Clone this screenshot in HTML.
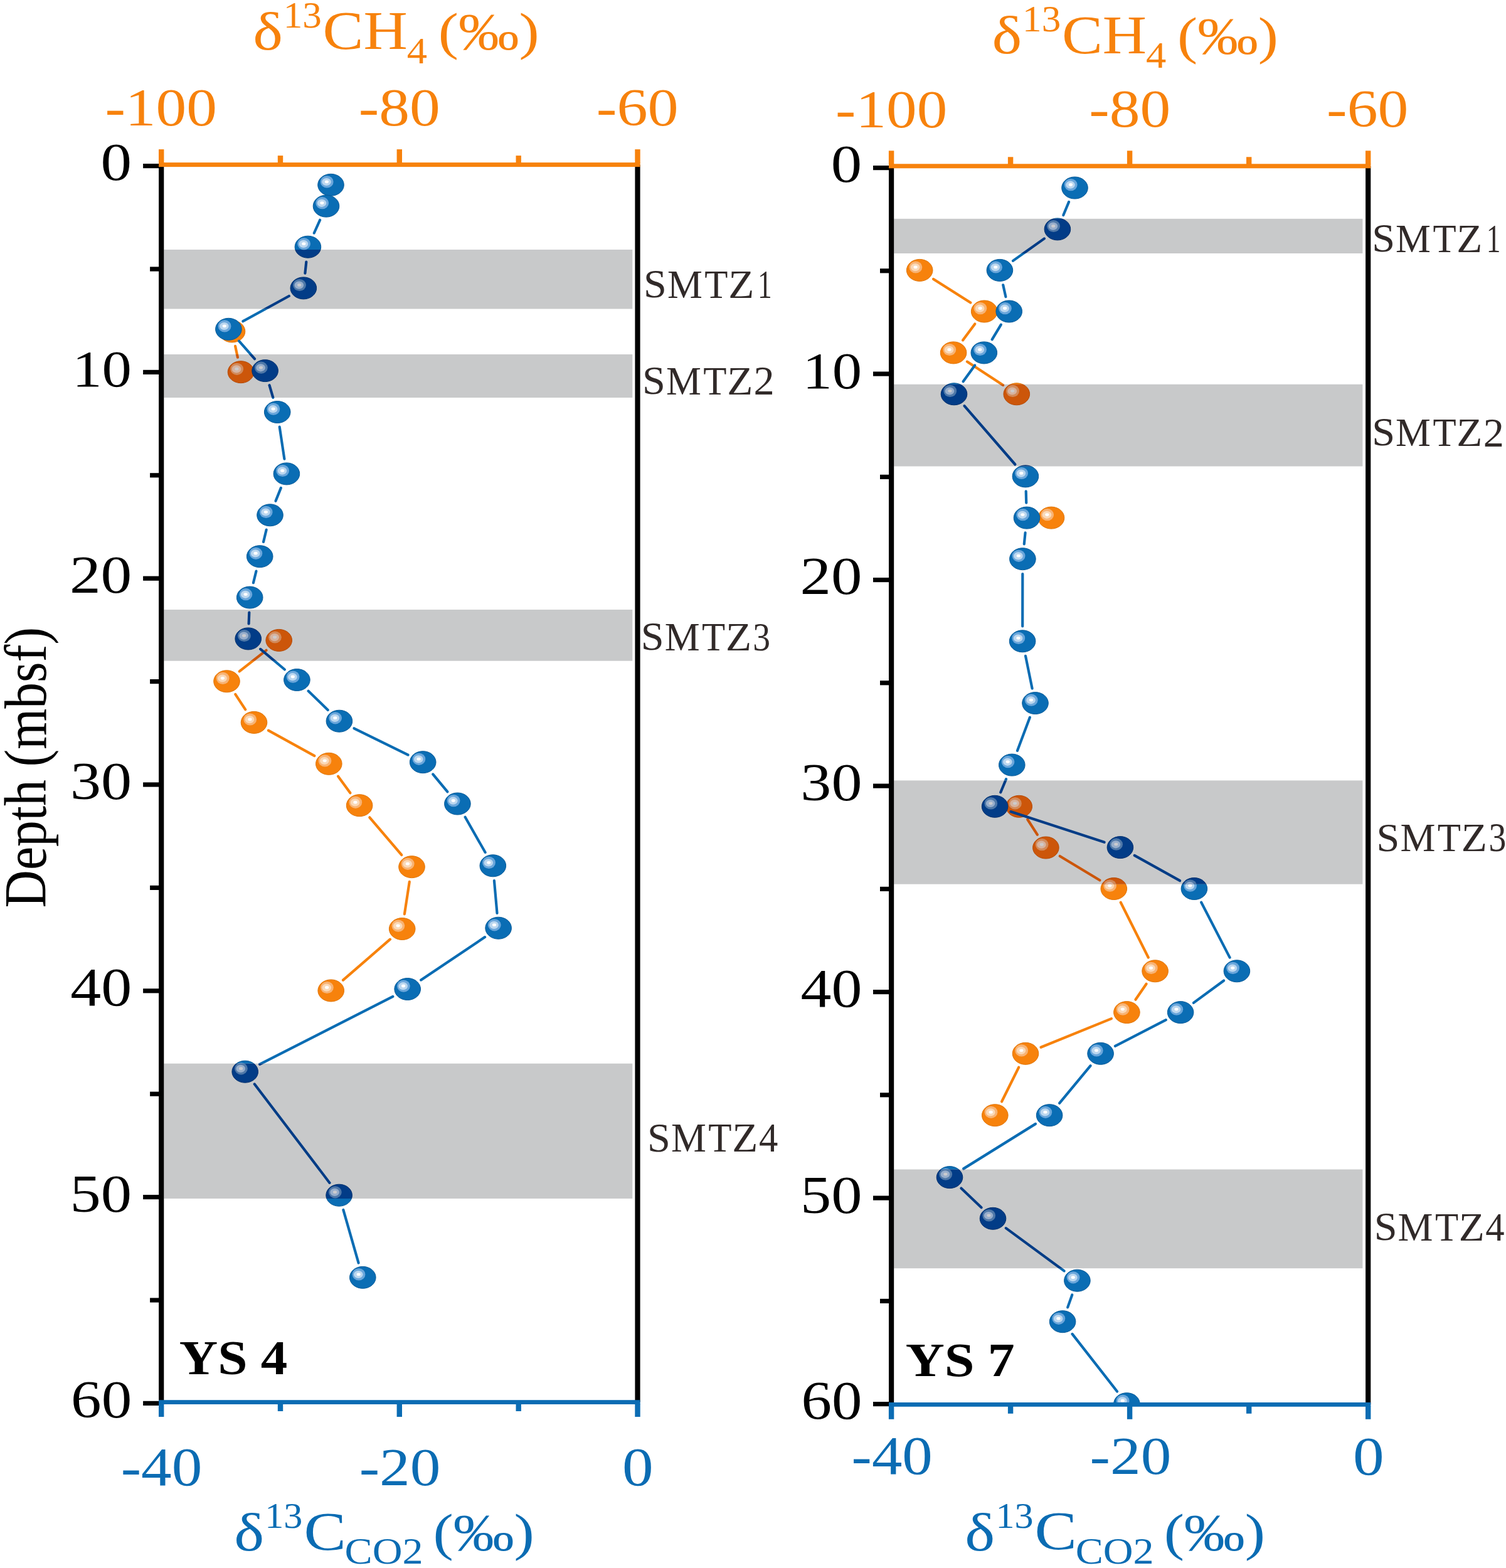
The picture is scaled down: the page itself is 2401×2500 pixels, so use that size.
<!DOCTYPE html>
<html><head><meta charset="utf-8"><title>d13C profiles YS4 YS7</title>
<style>html,body{margin:0;padding:0;background:#fff;}svg{display:block;}</style></head>
<body><svg width="2401" height="2500" viewBox="0 0 2401 2500"><rect width="2401" height="2500" fill="#fff"/><defs><clipPath id="paL"><rect x="257.2" y="262.6" width="759.3" height="1969.8"/></clipPath><clipPath id="bdL"><rect x="261.3" y="398.0" width="747.0" height="94.5"/><rect x="261.3" y="565.0" width="747.0" height="69.0"/><rect x="261.3" y="972.0" width="747.0" height="81.70000000000005"/><rect x="261.3" y="1695.7" width="747.0" height="215.29999999999995"/></clipPath></defs><g clip-path="url(#paL)"><g stroke="#F7820C" stroke-width="4.2" stroke-linecap="round"><line x1="375.1" y1="551.9" x2="378.9" y2="569.7"/></g><g stroke="#F7820C" stroke-width="4.2" stroke-linecap="round"><line x1="424.5" y1="1036.8" x2="381.7" y2="1070.4"/><line x1="375.2" y1="1106.9" x2="391.3" y2="1131.3"/><line x1="427.9" y1="1164.6" x2="501.4" y2="1205.1"/><line x1="539.0" y1="1237.8" x2="558.4" y2="1264.2"/><line x1="589.3" y1="1303.3" x2="640.3" y2="1363.1"/><line x1="652.8" y1="1405.9" x2="644.9" y2="1457.3"/><line x1="621.9" y1="1497.7" x2="547.0" y2="1562.7"/></g><ellipse cx="370.0" cy="528.4" rx="20.8" ry="17.5" fill="#F7820C" stroke="#E07508" stroke-width="1"/><ellipse cx="363.7" cy="523.5" rx="10.4" ry="9.6" fill="#F8B374"/><ellipse cx="363.0" cy="523.6" rx="7.3" ry="6.1" fill="#FAD9B8"/><ellipse cx="363.4" cy="523.4" rx="3.1" ry="2.4" fill="#FFFFFF"/><ellipse cx="384.0" cy="593.2" rx="20.8" ry="17.5" fill="#F7820C" stroke="#E07508" stroke-width="1"/><ellipse cx="377.7" cy="588.3" rx="10.4" ry="9.6" fill="#F8B374"/><ellipse cx="377.0" cy="588.4" rx="7.3" ry="6.1" fill="#FAD9B8"/><ellipse cx="377.4" cy="588.2" rx="3.1" ry="2.4" fill="#FFFFFF"/><ellipse cx="444.7" cy="1020.9" rx="20.8" ry="17.5" fill="#F7820C" stroke="#E07508" stroke-width="1"/><ellipse cx="438.4" cy="1016.0" rx="10.4" ry="9.6" fill="#F8B374"/><ellipse cx="437.7" cy="1016.1" rx="7.3" ry="6.1" fill="#FAD9B8"/><ellipse cx="438.1" cy="1015.9" rx="3.1" ry="2.4" fill="#FFFFFF"/><ellipse cx="361.5" cy="1086.3" rx="20.8" ry="17.5" fill="#F7820C" stroke="#E07508" stroke-width="1"/><ellipse cx="355.2" cy="1081.4" rx="10.4" ry="9.6" fill="#F8B374"/><ellipse cx="354.5" cy="1081.5" rx="7.3" ry="6.1" fill="#FAD9B8"/><ellipse cx="354.9" cy="1081.3" rx="3.1" ry="2.4" fill="#FFFFFF"/><ellipse cx="405.0" cy="1151.9" rx="20.8" ry="17.5" fill="#F7820C" stroke="#E07508" stroke-width="1"/><ellipse cx="398.7" cy="1147.0" rx="10.4" ry="9.6" fill="#F8B374"/><ellipse cx="398.0" cy="1147.1" rx="7.3" ry="6.1" fill="#FAD9B8"/><ellipse cx="398.4" cy="1146.9" rx="3.1" ry="2.4" fill="#FFFFFF"/><ellipse cx="524.3" cy="1217.8" rx="20.8" ry="17.5" fill="#F7820C" stroke="#E07508" stroke-width="1"/><ellipse cx="518.0" cy="1212.9" rx="10.4" ry="9.6" fill="#F8B374"/><ellipse cx="517.3" cy="1213.0" rx="7.3" ry="6.1" fill="#FAD9B8"/><ellipse cx="517.7" cy="1212.8" rx="3.1" ry="2.4" fill="#FFFFFF"/><ellipse cx="573.1" cy="1284.2" rx="20.8" ry="17.5" fill="#F7820C" stroke="#E07508" stroke-width="1"/><ellipse cx="566.8" cy="1279.3" rx="10.4" ry="9.6" fill="#F8B374"/><ellipse cx="566.1" cy="1279.4" rx="7.3" ry="6.1" fill="#FAD9B8"/><ellipse cx="566.5" cy="1279.2" rx="3.1" ry="2.4" fill="#FFFFFF"/><ellipse cx="656.5" cy="1382.2" rx="20.8" ry="17.5" fill="#F7820C" stroke="#E07508" stroke-width="1"/><ellipse cx="650.2" cy="1377.3" rx="10.4" ry="9.6" fill="#F8B374"/><ellipse cx="649.5" cy="1377.4" rx="7.3" ry="6.1" fill="#FAD9B8"/><ellipse cx="649.9" cy="1377.2" rx="3.1" ry="2.4" fill="#FFFFFF"/><ellipse cx="641.2" cy="1481.0" rx="20.8" ry="17.5" fill="#F7820C" stroke="#E07508" stroke-width="1"/><ellipse cx="634.9" cy="1476.1" rx="10.4" ry="9.6" fill="#F8B374"/><ellipse cx="634.2" cy="1476.2" rx="7.3" ry="6.1" fill="#FAD9B8"/><ellipse cx="634.6" cy="1476.0" rx="3.1" ry="2.4" fill="#FFFFFF"/><ellipse cx="527.7" cy="1579.4" rx="20.8" ry="17.5" fill="#F7820C" stroke="#E07508" stroke-width="1"/><ellipse cx="521.4" cy="1574.5" rx="10.4" ry="9.6" fill="#F8B374"/><ellipse cx="520.7" cy="1574.6" rx="7.3" ry="6.1" fill="#FAD9B8"/><ellipse cx="521.1" cy="1574.4" rx="3.1" ry="2.4" fill="#FFFFFF"/><g stroke="#0B6CB3" stroke-width="4.2" stroke-linecap="round"><line x1="510.1" y1="350.8" x2="500.8" y2="371.5"/><line x1="488.3" y1="417.5" x2="486.4" y2="435.6"/><line x1="460.8" y1="472.0" x2="387.4" y2="512.2"/><line x1="381.0" y1="543.7" x2="406.0" y2="572.2"/><line x1="429.5" y1="614.2" x2="435.3" y2="633.9"/><line x1="445.7" y1="680.7" x2="453.4" y2="731.7"/><line x1="447.9" y1="777.9" x2="439.5" y2="798.8"/><line x1="424.7" y1="844.6" x2="420.0" y2="863.9"/><line x1="408.5" y1="910.6" x2="403.9" y2="929.2"/><line x1="397.3" y1="976.5" x2="396.6" y2="994.5"/><line x1="415.2" y1="1034.9" x2="453.9" y2="1067.5"/><line x1="491.6" y1="1101.7" x2="522.7" y2="1132.0"/><line x1="564.5" y1="1161.3" x2="650.6" y2="1203.6"/><line x1="690.2" y1="1234.4" x2="713.4" y2="1262.3"/><line x1="741.6" y1="1302.8" x2="773.6" y2="1359.0"/><line x1="787.9" y1="1404.1" x2="792.5" y2="1455.9"/><line x1="773.1" y1="1494.1" x2="671.2" y2="1562.6"/><line x1="626.3" y1="1588.9" x2="414.1" y2="1696.8"/><line x1="405.8" y1="1728.5" x2="525.5" y2="1885.9"/><line x1="547.3" y1="1928.9" x2="571.6" y2="2013.6"/></g><ellipse cx="527.5" cy="294.8" rx="20.8" ry="17.5" fill="#0A6DB4" stroke="#075A98" stroke-width="1"/><ellipse cx="521.2" cy="289.9" rx="10.4" ry="9.6" fill="#6AA6DB"/><ellipse cx="520.5" cy="290.0" rx="7.3" ry="6.1" fill="#BCD7EF"/><ellipse cx="520.9" cy="289.8" rx="3.1" ry="2.4" fill="#FFFFFF"/><ellipse cx="520.0" cy="328.6" rx="20.8" ry="17.5" fill="#0A6DB4" stroke="#075A98" stroke-width="1"/><ellipse cx="513.7" cy="323.7" rx="10.4" ry="9.6" fill="#6AA6DB"/><ellipse cx="513.0" cy="323.8" rx="7.3" ry="6.1" fill="#BCD7EF"/><ellipse cx="513.4" cy="323.6" rx="3.1" ry="2.4" fill="#FFFFFF"/><ellipse cx="490.9" cy="393.7" rx="20.8" ry="17.5" fill="#0A6DB4" stroke="#075A98" stroke-width="1"/><ellipse cx="484.6" cy="388.8" rx="10.4" ry="9.6" fill="#6AA6DB"/><ellipse cx="483.9" cy="388.9" rx="7.3" ry="6.1" fill="#BCD7EF"/><ellipse cx="484.3" cy="388.7" rx="3.1" ry="2.4" fill="#FFFFFF"/><ellipse cx="483.8" cy="459.4" rx="20.8" ry="17.5" fill="#0A6DB4" stroke="#075A98" stroke-width="1"/><ellipse cx="477.5" cy="454.5" rx="10.4" ry="9.6" fill="#6AA6DB"/><ellipse cx="476.8" cy="454.6" rx="7.3" ry="6.1" fill="#BCD7EF"/><ellipse cx="477.2" cy="454.4" rx="3.1" ry="2.4" fill="#FFFFFF"/><ellipse cx="364.4" cy="524.8" rx="20.8" ry="17.5" fill="#0A6DB4" stroke="#075A98" stroke-width="1"/><ellipse cx="358.1" cy="519.9" rx="10.4" ry="9.6" fill="#6AA6DB"/><ellipse cx="357.4" cy="520.0" rx="7.3" ry="6.1" fill="#BCD7EF"/><ellipse cx="357.8" cy="519.8" rx="3.1" ry="2.4" fill="#FFFFFF"/><ellipse cx="422.6" cy="591.1" rx="20.8" ry="17.5" fill="#0A6DB4" stroke="#075A98" stroke-width="1"/><ellipse cx="416.3" cy="586.2" rx="10.4" ry="9.6" fill="#6AA6DB"/><ellipse cx="415.6" cy="586.3" rx="7.3" ry="6.1" fill="#BCD7EF"/><ellipse cx="416.0" cy="586.1" rx="3.1" ry="2.4" fill="#FFFFFF"/><ellipse cx="442.2" cy="657.0" rx="20.8" ry="17.5" fill="#0A6DB4" stroke="#075A98" stroke-width="1"/><ellipse cx="435.9" cy="652.1" rx="10.4" ry="9.6" fill="#6AA6DB"/><ellipse cx="435.2" cy="652.2" rx="7.3" ry="6.1" fill="#BCD7EF"/><ellipse cx="435.6" cy="652.0" rx="3.1" ry="2.4" fill="#FFFFFF"/><ellipse cx="456.9" cy="755.4" rx="20.8" ry="17.5" fill="#0A6DB4" stroke="#075A98" stroke-width="1"/><ellipse cx="450.6" cy="750.5" rx="10.4" ry="9.6" fill="#6AA6DB"/><ellipse cx="449.9" cy="750.6" rx="7.3" ry="6.1" fill="#BCD7EF"/><ellipse cx="450.3" cy="750.4" rx="3.1" ry="2.4" fill="#FFFFFF"/><ellipse cx="430.5" cy="821.3" rx="20.8" ry="17.5" fill="#0A6DB4" stroke="#075A98" stroke-width="1"/><ellipse cx="424.2" cy="816.4" rx="10.4" ry="9.6" fill="#6AA6DB"/><ellipse cx="423.5" cy="816.5" rx="7.3" ry="6.1" fill="#BCD7EF"/><ellipse cx="423.9" cy="816.3" rx="3.1" ry="2.4" fill="#FFFFFF"/><ellipse cx="414.2" cy="887.2" rx="20.8" ry="17.5" fill="#0A6DB4" stroke="#075A98" stroke-width="1"/><ellipse cx="407.9" cy="882.3" rx="10.4" ry="9.6" fill="#6AA6DB"/><ellipse cx="407.2" cy="882.4" rx="7.3" ry="6.1" fill="#BCD7EF"/><ellipse cx="407.6" cy="882.2" rx="3.1" ry="2.4" fill="#FFFFFF"/><ellipse cx="398.2" cy="952.6" rx="20.8" ry="17.5" fill="#0A6DB4" stroke="#075A98" stroke-width="1"/><ellipse cx="391.9" cy="947.7" rx="10.4" ry="9.6" fill="#6AA6DB"/><ellipse cx="391.2" cy="947.8" rx="7.3" ry="6.1" fill="#BCD7EF"/><ellipse cx="391.6" cy="947.6" rx="3.1" ry="2.4" fill="#FFFFFF"/><ellipse cx="395.7" cy="1018.4" rx="20.8" ry="17.5" fill="#0A6DB4" stroke="#075A98" stroke-width="1"/><ellipse cx="389.4" cy="1013.5" rx="10.4" ry="9.6" fill="#6AA6DB"/><ellipse cx="388.7" cy="1013.6" rx="7.3" ry="6.1" fill="#BCD7EF"/><ellipse cx="389.1" cy="1013.4" rx="3.1" ry="2.4" fill="#FFFFFF"/><ellipse cx="473.4" cy="1084.0" rx="20.8" ry="17.5" fill="#0A6DB4" stroke="#075A98" stroke-width="1"/><ellipse cx="467.1" cy="1079.1" rx="10.4" ry="9.6" fill="#6AA6DB"/><ellipse cx="466.4" cy="1079.2" rx="7.3" ry="6.1" fill="#BCD7EF"/><ellipse cx="466.8" cy="1079.0" rx="3.1" ry="2.4" fill="#FFFFFF"/><ellipse cx="540.9" cy="1149.7" rx="20.8" ry="17.5" fill="#0A6DB4" stroke="#075A98" stroke-width="1"/><ellipse cx="534.6" cy="1144.8" rx="10.4" ry="9.6" fill="#6AA6DB"/><ellipse cx="533.9" cy="1144.9" rx="7.3" ry="6.1" fill="#BCD7EF"/><ellipse cx="534.3" cy="1144.7" rx="3.1" ry="2.4" fill="#FFFFFF"/><ellipse cx="674.2" cy="1215.2" rx="20.8" ry="17.5" fill="#0A6DB4" stroke="#075A98" stroke-width="1"/><ellipse cx="667.9" cy="1210.3" rx="10.4" ry="9.6" fill="#6AA6DB"/><ellipse cx="667.2" cy="1210.4" rx="7.3" ry="6.1" fill="#BCD7EF"/><ellipse cx="667.6" cy="1210.2" rx="3.1" ry="2.4" fill="#FFFFFF"/><ellipse cx="729.4" cy="1281.5" rx="20.8" ry="17.5" fill="#0A6DB4" stroke="#075A98" stroke-width="1"/><ellipse cx="723.1" cy="1276.6" rx="10.4" ry="9.6" fill="#6AA6DB"/><ellipse cx="722.4" cy="1276.7" rx="7.3" ry="6.1" fill="#BCD7EF"/><ellipse cx="722.8" cy="1276.5" rx="3.1" ry="2.4" fill="#FFFFFF"/><ellipse cx="785.8" cy="1380.3" rx="20.8" ry="17.5" fill="#0A6DB4" stroke="#075A98" stroke-width="1"/><ellipse cx="779.5" cy="1375.4" rx="10.4" ry="9.6" fill="#6AA6DB"/><ellipse cx="778.8" cy="1375.5" rx="7.3" ry="6.1" fill="#BCD7EF"/><ellipse cx="779.2" cy="1375.3" rx="3.1" ry="2.4" fill="#FFFFFF"/><ellipse cx="794.6" cy="1479.7" rx="20.8" ry="17.5" fill="#0A6DB4" stroke="#075A98" stroke-width="1"/><ellipse cx="788.3" cy="1474.8" rx="10.4" ry="9.6" fill="#6AA6DB"/><ellipse cx="787.6" cy="1474.9" rx="7.3" ry="6.1" fill="#BCD7EF"/><ellipse cx="788.0" cy="1474.7" rx="3.1" ry="2.4" fill="#FFFFFF"/><ellipse cx="649.7" cy="1577.0" rx="20.8" ry="17.5" fill="#0A6DB4" stroke="#075A98" stroke-width="1"/><ellipse cx="643.4" cy="1572.1" rx="10.4" ry="9.6" fill="#6AA6DB"/><ellipse cx="642.7" cy="1572.2" rx="7.3" ry="6.1" fill="#BCD7EF"/><ellipse cx="643.1" cy="1572.0" rx="3.1" ry="2.4" fill="#FFFFFF"/><ellipse cx="390.7" cy="1708.7" rx="20.8" ry="17.5" fill="#0A6DB4" stroke="#075A98" stroke-width="1"/><ellipse cx="384.4" cy="1703.8" rx="10.4" ry="9.6" fill="#6AA6DB"/><ellipse cx="383.7" cy="1703.9" rx="7.3" ry="6.1" fill="#BCD7EF"/><ellipse cx="384.1" cy="1703.7" rx="3.1" ry="2.4" fill="#FFFFFF"/><ellipse cx="540.6" cy="1905.7" rx="20.8" ry="17.5" fill="#0A6DB4" stroke="#075A98" stroke-width="1"/><ellipse cx="534.3" cy="1900.8" rx="10.4" ry="9.6" fill="#6AA6DB"/><ellipse cx="533.6" cy="1900.9" rx="7.3" ry="6.1" fill="#BCD7EF"/><ellipse cx="534.0" cy="1900.7" rx="3.1" ry="2.4" fill="#FFFFFF"/><ellipse cx="578.3" cy="2036.8" rx="20.8" ry="17.5" fill="#0A6DB4" stroke="#075A98" stroke-width="1"/><ellipse cx="572.0" cy="2031.9" rx="10.4" ry="9.6" fill="#6AA6DB"/><ellipse cx="571.3" cy="2032.0" rx="7.3" ry="6.1" fill="#BCD7EF"/><ellipse cx="571.7" cy="2031.8" rx="3.1" ry="2.4" fill="#FFFFFF"/><rect x="261.3" y="398.0" width="747.0" height="94.5" fill="#C8C9CA"/><rect x="261.3" y="565.0" width="747.0" height="69.0" fill="#C8C9CA"/><rect x="261.3" y="972.0" width="747.0" height="81.70000000000005" fill="#C8C9CA"/><rect x="261.3" y="1695.7" width="747.0" height="215.29999999999995" fill="#C8C9CA"/><g clip-path="url(#bdL)"><g stroke="#CC560B" stroke-width="4.2" stroke-linecap="round"><line x1="375.1" y1="551.9" x2="378.9" y2="569.7"/></g><g stroke="#CC560B" stroke-width="4.2" stroke-linecap="round"><line x1="424.5" y1="1036.8" x2="381.7" y2="1070.4"/><line x1="375.2" y1="1106.9" x2="391.3" y2="1131.3"/><line x1="427.9" y1="1164.6" x2="501.4" y2="1205.1"/><line x1="539.0" y1="1237.8" x2="558.4" y2="1264.2"/><line x1="589.3" y1="1303.3" x2="640.3" y2="1363.1"/><line x1="652.8" y1="1405.9" x2="644.9" y2="1457.3"/><line x1="621.9" y1="1497.7" x2="547.0" y2="1562.7"/></g><ellipse cx="370.0" cy="528.4" rx="20.8" ry="17.5" fill="#CC560A" stroke="#B54A06" stroke-width="1"/><ellipse cx="363.7" cy="523.5" rx="10.4" ry="9.6" fill="#D28A5A"/><ellipse cx="363.0" cy="523.6" rx="7.3" ry="6.1" fill="#D6B3A0"/><ellipse cx="363.4" cy="523.4" rx="3.1" ry="2.4" fill="#CDCBCB"/><ellipse cx="384.0" cy="593.2" rx="20.8" ry="17.5" fill="#CC560A" stroke="#B54A06" stroke-width="1"/><ellipse cx="377.7" cy="588.3" rx="10.4" ry="9.6" fill="#D28A5A"/><ellipse cx="377.0" cy="588.4" rx="7.3" ry="6.1" fill="#D6B3A0"/><ellipse cx="377.4" cy="588.2" rx="3.1" ry="2.4" fill="#CDCBCB"/><ellipse cx="444.7" cy="1020.9" rx="20.8" ry="17.5" fill="#CC560A" stroke="#B54A06" stroke-width="1"/><ellipse cx="438.4" cy="1016.0" rx="10.4" ry="9.6" fill="#D28A5A"/><ellipse cx="437.7" cy="1016.1" rx="7.3" ry="6.1" fill="#D6B3A0"/><ellipse cx="438.1" cy="1015.9" rx="3.1" ry="2.4" fill="#CDCBCB"/><ellipse cx="361.5" cy="1086.3" rx="20.8" ry="17.5" fill="#CC560A" stroke="#B54A06" stroke-width="1"/><ellipse cx="355.2" cy="1081.4" rx="10.4" ry="9.6" fill="#D28A5A"/><ellipse cx="354.5" cy="1081.5" rx="7.3" ry="6.1" fill="#D6B3A0"/><ellipse cx="354.9" cy="1081.3" rx="3.1" ry="2.4" fill="#CDCBCB"/><ellipse cx="405.0" cy="1151.9" rx="20.8" ry="17.5" fill="#CC560A" stroke="#B54A06" stroke-width="1"/><ellipse cx="398.7" cy="1147.0" rx="10.4" ry="9.6" fill="#D28A5A"/><ellipse cx="398.0" cy="1147.1" rx="7.3" ry="6.1" fill="#D6B3A0"/><ellipse cx="398.4" cy="1146.9" rx="3.1" ry="2.4" fill="#CDCBCB"/><ellipse cx="524.3" cy="1217.8" rx="20.8" ry="17.5" fill="#CC560A" stroke="#B54A06" stroke-width="1"/><ellipse cx="518.0" cy="1212.9" rx="10.4" ry="9.6" fill="#D28A5A"/><ellipse cx="517.3" cy="1213.0" rx="7.3" ry="6.1" fill="#D6B3A0"/><ellipse cx="517.7" cy="1212.8" rx="3.1" ry="2.4" fill="#CDCBCB"/><ellipse cx="573.1" cy="1284.2" rx="20.8" ry="17.5" fill="#CC560A" stroke="#B54A06" stroke-width="1"/><ellipse cx="566.8" cy="1279.3" rx="10.4" ry="9.6" fill="#D28A5A"/><ellipse cx="566.1" cy="1279.4" rx="7.3" ry="6.1" fill="#D6B3A0"/><ellipse cx="566.5" cy="1279.2" rx="3.1" ry="2.4" fill="#CDCBCB"/><ellipse cx="656.5" cy="1382.2" rx="20.8" ry="17.5" fill="#CC560A" stroke="#B54A06" stroke-width="1"/><ellipse cx="650.2" cy="1377.3" rx="10.4" ry="9.6" fill="#D28A5A"/><ellipse cx="649.5" cy="1377.4" rx="7.3" ry="6.1" fill="#D6B3A0"/><ellipse cx="649.9" cy="1377.2" rx="3.1" ry="2.4" fill="#CDCBCB"/><ellipse cx="641.2" cy="1481.0" rx="20.8" ry="17.5" fill="#CC560A" stroke="#B54A06" stroke-width="1"/><ellipse cx="634.9" cy="1476.1" rx="10.4" ry="9.6" fill="#D28A5A"/><ellipse cx="634.2" cy="1476.2" rx="7.3" ry="6.1" fill="#D6B3A0"/><ellipse cx="634.6" cy="1476.0" rx="3.1" ry="2.4" fill="#CDCBCB"/><ellipse cx="527.7" cy="1579.4" rx="20.8" ry="17.5" fill="#CC560A" stroke="#B54A06" stroke-width="1"/><ellipse cx="521.4" cy="1574.5" rx="10.4" ry="9.6" fill="#D28A5A"/><ellipse cx="520.7" cy="1574.6" rx="7.3" ry="6.1" fill="#D6B3A0"/><ellipse cx="521.1" cy="1574.4" rx="3.1" ry="2.4" fill="#CDCBCB"/><g stroke="#023C86" stroke-width="4.2" stroke-linecap="round"><line x1="510.1" y1="350.8" x2="500.8" y2="371.5"/><line x1="488.3" y1="417.5" x2="486.4" y2="435.6"/><line x1="460.8" y1="472.0" x2="387.4" y2="512.2"/><line x1="381.0" y1="543.7" x2="406.0" y2="572.2"/><line x1="429.5" y1="614.2" x2="435.3" y2="633.9"/><line x1="445.7" y1="680.7" x2="453.4" y2="731.7"/><line x1="447.9" y1="777.9" x2="439.5" y2="798.8"/><line x1="424.7" y1="844.6" x2="420.0" y2="863.9"/><line x1="408.5" y1="910.6" x2="403.9" y2="929.2"/><line x1="397.3" y1="976.5" x2="396.6" y2="994.5"/><line x1="415.2" y1="1034.9" x2="453.9" y2="1067.5"/><line x1="491.6" y1="1101.7" x2="522.7" y2="1132.0"/><line x1="564.5" y1="1161.3" x2="650.6" y2="1203.6"/><line x1="690.2" y1="1234.4" x2="713.4" y2="1262.3"/><line x1="741.6" y1="1302.8" x2="773.6" y2="1359.0"/><line x1="787.9" y1="1404.1" x2="792.5" y2="1455.9"/><line x1="773.1" y1="1494.1" x2="671.2" y2="1562.6"/><line x1="626.3" y1="1588.9" x2="414.1" y2="1696.8"/><line x1="405.8" y1="1728.5" x2="525.5" y2="1885.9"/><line x1="547.3" y1="1928.9" x2="571.6" y2="2013.6"/></g><ellipse cx="527.5" cy="294.8" rx="20.8" ry="17.5" fill="#023C87" stroke="#012F6C" stroke-width="1"/><ellipse cx="521.2" cy="289.9" rx="10.4" ry="9.6" fill="#4F78A8"/><ellipse cx="520.5" cy="290.0" rx="7.3" ry="6.1" fill="#98AECB"/><ellipse cx="520.9" cy="289.8" rx="3.1" ry="2.4" fill="#CACBCF"/><ellipse cx="520.0" cy="328.6" rx="20.8" ry="17.5" fill="#023C87" stroke="#012F6C" stroke-width="1"/><ellipse cx="513.7" cy="323.7" rx="10.4" ry="9.6" fill="#4F78A8"/><ellipse cx="513.0" cy="323.8" rx="7.3" ry="6.1" fill="#98AECB"/><ellipse cx="513.4" cy="323.6" rx="3.1" ry="2.4" fill="#CACBCF"/><ellipse cx="490.9" cy="393.7" rx="20.8" ry="17.5" fill="#023C87" stroke="#012F6C" stroke-width="1"/><ellipse cx="484.6" cy="388.8" rx="10.4" ry="9.6" fill="#4F78A8"/><ellipse cx="483.9" cy="388.9" rx="7.3" ry="6.1" fill="#98AECB"/><ellipse cx="484.3" cy="388.7" rx="3.1" ry="2.4" fill="#CACBCF"/><ellipse cx="483.8" cy="459.4" rx="20.8" ry="17.5" fill="#023C87" stroke="#012F6C" stroke-width="1"/><ellipse cx="477.5" cy="454.5" rx="10.4" ry="9.6" fill="#4F78A8"/><ellipse cx="476.8" cy="454.6" rx="7.3" ry="6.1" fill="#98AECB"/><ellipse cx="477.2" cy="454.4" rx="3.1" ry="2.4" fill="#CACBCF"/><ellipse cx="364.4" cy="524.8" rx="20.8" ry="17.5" fill="#023C87" stroke="#012F6C" stroke-width="1"/><ellipse cx="358.1" cy="519.9" rx="10.4" ry="9.6" fill="#4F78A8"/><ellipse cx="357.4" cy="520.0" rx="7.3" ry="6.1" fill="#98AECB"/><ellipse cx="357.8" cy="519.8" rx="3.1" ry="2.4" fill="#CACBCF"/><ellipse cx="422.6" cy="591.1" rx="20.8" ry="17.5" fill="#023C87" stroke="#012F6C" stroke-width="1"/><ellipse cx="416.3" cy="586.2" rx="10.4" ry="9.6" fill="#4F78A8"/><ellipse cx="415.6" cy="586.3" rx="7.3" ry="6.1" fill="#98AECB"/><ellipse cx="416.0" cy="586.1" rx="3.1" ry="2.4" fill="#CACBCF"/><ellipse cx="442.2" cy="657.0" rx="20.8" ry="17.5" fill="#023C87" stroke="#012F6C" stroke-width="1"/><ellipse cx="435.9" cy="652.1" rx="10.4" ry="9.6" fill="#4F78A8"/><ellipse cx="435.2" cy="652.2" rx="7.3" ry="6.1" fill="#98AECB"/><ellipse cx="435.6" cy="652.0" rx="3.1" ry="2.4" fill="#CACBCF"/><ellipse cx="456.9" cy="755.4" rx="20.8" ry="17.5" fill="#023C87" stroke="#012F6C" stroke-width="1"/><ellipse cx="450.6" cy="750.5" rx="10.4" ry="9.6" fill="#4F78A8"/><ellipse cx="449.9" cy="750.6" rx="7.3" ry="6.1" fill="#98AECB"/><ellipse cx="450.3" cy="750.4" rx="3.1" ry="2.4" fill="#CACBCF"/><ellipse cx="430.5" cy="821.3" rx="20.8" ry="17.5" fill="#023C87" stroke="#012F6C" stroke-width="1"/><ellipse cx="424.2" cy="816.4" rx="10.4" ry="9.6" fill="#4F78A8"/><ellipse cx="423.5" cy="816.5" rx="7.3" ry="6.1" fill="#98AECB"/><ellipse cx="423.9" cy="816.3" rx="3.1" ry="2.4" fill="#CACBCF"/><ellipse cx="414.2" cy="887.2" rx="20.8" ry="17.5" fill="#023C87" stroke="#012F6C" stroke-width="1"/><ellipse cx="407.9" cy="882.3" rx="10.4" ry="9.6" fill="#4F78A8"/><ellipse cx="407.2" cy="882.4" rx="7.3" ry="6.1" fill="#98AECB"/><ellipse cx="407.6" cy="882.2" rx="3.1" ry="2.4" fill="#CACBCF"/><ellipse cx="398.2" cy="952.6" rx="20.8" ry="17.5" fill="#023C87" stroke="#012F6C" stroke-width="1"/><ellipse cx="391.9" cy="947.7" rx="10.4" ry="9.6" fill="#4F78A8"/><ellipse cx="391.2" cy="947.8" rx="7.3" ry="6.1" fill="#98AECB"/><ellipse cx="391.6" cy="947.6" rx="3.1" ry="2.4" fill="#CACBCF"/><ellipse cx="395.7" cy="1018.4" rx="20.8" ry="17.5" fill="#023C87" stroke="#012F6C" stroke-width="1"/><ellipse cx="389.4" cy="1013.5" rx="10.4" ry="9.6" fill="#4F78A8"/><ellipse cx="388.7" cy="1013.6" rx="7.3" ry="6.1" fill="#98AECB"/><ellipse cx="389.1" cy="1013.4" rx="3.1" ry="2.4" fill="#CACBCF"/><ellipse cx="473.4" cy="1084.0" rx="20.8" ry="17.5" fill="#023C87" stroke="#012F6C" stroke-width="1"/><ellipse cx="467.1" cy="1079.1" rx="10.4" ry="9.6" fill="#4F78A8"/><ellipse cx="466.4" cy="1079.2" rx="7.3" ry="6.1" fill="#98AECB"/><ellipse cx="466.8" cy="1079.0" rx="3.1" ry="2.4" fill="#CACBCF"/><ellipse cx="540.9" cy="1149.7" rx="20.8" ry="17.5" fill="#023C87" stroke="#012F6C" stroke-width="1"/><ellipse cx="534.6" cy="1144.8" rx="10.4" ry="9.6" fill="#4F78A8"/><ellipse cx="533.9" cy="1144.9" rx="7.3" ry="6.1" fill="#98AECB"/><ellipse cx="534.3" cy="1144.7" rx="3.1" ry="2.4" fill="#CACBCF"/><ellipse cx="674.2" cy="1215.2" rx="20.8" ry="17.5" fill="#023C87" stroke="#012F6C" stroke-width="1"/><ellipse cx="667.9" cy="1210.3" rx="10.4" ry="9.6" fill="#4F78A8"/><ellipse cx="667.2" cy="1210.4" rx="7.3" ry="6.1" fill="#98AECB"/><ellipse cx="667.6" cy="1210.2" rx="3.1" ry="2.4" fill="#CACBCF"/><ellipse cx="729.4" cy="1281.5" rx="20.8" ry="17.5" fill="#023C87" stroke="#012F6C" stroke-width="1"/><ellipse cx="723.1" cy="1276.6" rx="10.4" ry="9.6" fill="#4F78A8"/><ellipse cx="722.4" cy="1276.7" rx="7.3" ry="6.1" fill="#98AECB"/><ellipse cx="722.8" cy="1276.5" rx="3.1" ry="2.4" fill="#CACBCF"/><ellipse cx="785.8" cy="1380.3" rx="20.8" ry="17.5" fill="#023C87" stroke="#012F6C" stroke-width="1"/><ellipse cx="779.5" cy="1375.4" rx="10.4" ry="9.6" fill="#4F78A8"/><ellipse cx="778.8" cy="1375.5" rx="7.3" ry="6.1" fill="#98AECB"/><ellipse cx="779.2" cy="1375.3" rx="3.1" ry="2.4" fill="#CACBCF"/><ellipse cx="794.6" cy="1479.7" rx="20.8" ry="17.5" fill="#023C87" stroke="#012F6C" stroke-width="1"/><ellipse cx="788.3" cy="1474.8" rx="10.4" ry="9.6" fill="#4F78A8"/><ellipse cx="787.6" cy="1474.9" rx="7.3" ry="6.1" fill="#98AECB"/><ellipse cx="788.0" cy="1474.7" rx="3.1" ry="2.4" fill="#CACBCF"/><ellipse cx="649.7" cy="1577.0" rx="20.8" ry="17.5" fill="#023C87" stroke="#012F6C" stroke-width="1"/><ellipse cx="643.4" cy="1572.1" rx="10.4" ry="9.6" fill="#4F78A8"/><ellipse cx="642.7" cy="1572.2" rx="7.3" ry="6.1" fill="#98AECB"/><ellipse cx="643.1" cy="1572.0" rx="3.1" ry="2.4" fill="#CACBCF"/><ellipse cx="390.7" cy="1708.7" rx="20.8" ry="17.5" fill="#023C87" stroke="#012F6C" stroke-width="1"/><ellipse cx="384.4" cy="1703.8" rx="10.4" ry="9.6" fill="#4F78A8"/><ellipse cx="383.7" cy="1703.9" rx="7.3" ry="6.1" fill="#98AECB"/><ellipse cx="384.1" cy="1703.7" rx="3.1" ry="2.4" fill="#CACBCF"/><ellipse cx="540.6" cy="1905.7" rx="20.8" ry="17.5" fill="#023C87" stroke="#012F6C" stroke-width="1"/><ellipse cx="534.3" cy="1900.8" rx="10.4" ry="9.6" fill="#4F78A8"/><ellipse cx="533.6" cy="1900.9" rx="7.3" ry="6.1" fill="#98AECB"/><ellipse cx="534.0" cy="1900.7" rx="3.1" ry="2.4" fill="#CACBCF"/><ellipse cx="578.3" cy="2036.8" rx="20.8" ry="17.5" fill="#023C87" stroke="#012F6C" stroke-width="1"/><ellipse cx="572.0" cy="2031.9" rx="10.4" ry="9.6" fill="#4F78A8"/><ellipse cx="571.3" cy="2032.0" rx="7.3" ry="6.1" fill="#98AECB"/><ellipse cx="571.7" cy="2031.8" rx="3.1" ry="2.4" fill="#CACBCF"/></g></g><defs><clipPath id="paR"><rect x="1421.1" y="264.8" width="760.0999999999999" height="1971.4"/></clipPath><clipPath id="bdR"><rect x="1425.2" y="348.8" width="747.2" height="55.19999999999999"/><rect x="1425.2" y="612.8" width="747.2" height="130.70000000000005"/><rect x="1425.2" y="1244.4" width="747.2" height="165.29999999999995"/><rect x="1425.2" y="1864.5" width="747.2" height="157.70000000000005"/></clipPath></defs><g clip-path="url(#paR)"><g stroke="#F7820C" stroke-width="4.2" stroke-linecap="round"><line x1="1488.1" y1="444.9" x2="1547.3" y2="482.5"/><line x1="1554.3" y1="516.5" x2="1535.0" y2="542.4"/><line x1="1541.8" y1="576.6" x2="1599.1" y2="614.1"/></g><g stroke="#F7820C" stroke-width="4.2" stroke-linecap="round"></g><g stroke="#F7820C" stroke-width="4.2" stroke-linecap="round"><line x1="1638.2" y1="1306.5" x2="1653.9" y2="1330.8"/><line x1="1689.7" y1="1365.0" x2="1753.5" y2="1403.5"/><line x1="1786.7" y1="1438.8" x2="1830.7" y2="1526.5"/><line x1="1827.6" y1="1568.7" x2="1810.4" y2="1593.7"/><line x1="1771.9" y1="1624.1" x2="1659.5" y2="1669.8"/><line x1="1624.2" y1="1701.7" x2="1597.1" y2="1756.3"/></g><ellipse cx="1466.2" cy="430.9" rx="20.8" ry="17.5" fill="#F7820C" stroke="#E07508" stroke-width="1"/><ellipse cx="1459.9" cy="426.0" rx="10.4" ry="9.6" fill="#F8B374"/><ellipse cx="1459.2" cy="426.1" rx="7.3" ry="6.1" fill="#FAD9B8"/><ellipse cx="1459.6" cy="425.9" rx="3.1" ry="2.4" fill="#FFFFFF"/><ellipse cx="1569.2" cy="496.5" rx="20.8" ry="17.5" fill="#F7820C" stroke="#E07508" stroke-width="1"/><ellipse cx="1562.9" cy="491.6" rx="10.4" ry="9.6" fill="#F8B374"/><ellipse cx="1562.2" cy="491.7" rx="7.3" ry="6.1" fill="#FAD9B8"/><ellipse cx="1562.6" cy="491.5" rx="3.1" ry="2.4" fill="#FFFFFF"/><ellipse cx="1520.1" cy="562.4" rx="20.8" ry="17.5" fill="#F7820C" stroke="#E07508" stroke-width="1"/><ellipse cx="1513.8" cy="557.5" rx="10.4" ry="9.6" fill="#F8B374"/><ellipse cx="1513.1" cy="557.6" rx="7.3" ry="6.1" fill="#FAD9B8"/><ellipse cx="1513.5" cy="557.4" rx="3.1" ry="2.4" fill="#FFFFFF"/><ellipse cx="1620.8" cy="628.3" rx="20.8" ry="17.5" fill="#F7820C" stroke="#E07508" stroke-width="1"/><ellipse cx="1614.5" cy="623.4" rx="10.4" ry="9.6" fill="#F8B374"/><ellipse cx="1613.8" cy="623.5" rx="7.3" ry="6.1" fill="#FAD9B8"/><ellipse cx="1614.2" cy="623.3" rx="3.1" ry="2.4" fill="#FFFFFF"/><ellipse cx="1676.0" cy="825.6" rx="20.8" ry="17.5" fill="#F7820C" stroke="#E07508" stroke-width="1"/><ellipse cx="1669.7" cy="820.7" rx="10.4" ry="9.6" fill="#F8B374"/><ellipse cx="1669.0" cy="820.8" rx="7.3" ry="6.1" fill="#FAD9B8"/><ellipse cx="1669.4" cy="820.6" rx="3.1" ry="2.4" fill="#FFFFFF"/><ellipse cx="1624.7" cy="1285.8" rx="20.8" ry="17.5" fill="#F7820C" stroke="#E07508" stroke-width="1"/><ellipse cx="1618.4" cy="1280.9" rx="10.4" ry="9.6" fill="#F8B374"/><ellipse cx="1617.7" cy="1281.0" rx="7.3" ry="6.1" fill="#FAD9B8"/><ellipse cx="1618.1" cy="1280.8" rx="3.1" ry="2.4" fill="#FFFFFF"/><ellipse cx="1667.4" cy="1351.5" rx="20.8" ry="17.5" fill="#F7820C" stroke="#E07508" stroke-width="1"/><ellipse cx="1661.1" cy="1346.6" rx="10.4" ry="9.6" fill="#F8B374"/><ellipse cx="1660.4" cy="1346.7" rx="7.3" ry="6.1" fill="#FAD9B8"/><ellipse cx="1660.8" cy="1346.5" rx="3.1" ry="2.4" fill="#FFFFFF"/><ellipse cx="1775.8" cy="1417.0" rx="20.8" ry="17.5" fill="#F7820C" stroke="#E07508" stroke-width="1"/><ellipse cx="1769.5" cy="1412.1" rx="10.4" ry="9.6" fill="#F8B374"/><ellipse cx="1768.8" cy="1412.2" rx="7.3" ry="6.1" fill="#FAD9B8"/><ellipse cx="1769.2" cy="1412.0" rx="3.1" ry="2.4" fill="#FFFFFF"/><ellipse cx="1841.6" cy="1548.3" rx="20.8" ry="17.5" fill="#F7820C" stroke="#E07508" stroke-width="1"/><ellipse cx="1835.3" cy="1543.4" rx="10.4" ry="9.6" fill="#F8B374"/><ellipse cx="1834.6" cy="1543.5" rx="7.3" ry="6.1" fill="#FAD9B8"/><ellipse cx="1835.0" cy="1543.3" rx="3.1" ry="2.4" fill="#FFFFFF"/><ellipse cx="1796.4" cy="1614.1" rx="20.8" ry="17.5" fill="#F7820C" stroke="#E07508" stroke-width="1"/><ellipse cx="1790.1" cy="1609.2" rx="10.4" ry="9.6" fill="#F8B374"/><ellipse cx="1789.4" cy="1609.3" rx="7.3" ry="6.1" fill="#FAD9B8"/><ellipse cx="1789.8" cy="1609.1" rx="3.1" ry="2.4" fill="#FFFFFF"/><ellipse cx="1635.0" cy="1679.8" rx="20.8" ry="17.5" fill="#F7820C" stroke="#E07508" stroke-width="1"/><ellipse cx="1628.7" cy="1674.9" rx="10.4" ry="9.6" fill="#F8B374"/><ellipse cx="1628.0" cy="1675.0" rx="7.3" ry="6.1" fill="#FAD9B8"/><ellipse cx="1628.4" cy="1674.8" rx="3.1" ry="2.4" fill="#FFFFFF"/><ellipse cx="1586.3" cy="1778.2" rx="20.8" ry="17.5" fill="#F7820C" stroke="#E07508" stroke-width="1"/><ellipse cx="1580.0" cy="1773.3" rx="10.4" ry="9.6" fill="#F8B374"/><ellipse cx="1579.3" cy="1773.4" rx="7.3" ry="6.1" fill="#FAD9B8"/><ellipse cx="1579.7" cy="1773.2" rx="3.1" ry="2.4" fill="#FFFFFF"/><g stroke="#0B6CB3" stroke-width="4.2" stroke-linecap="round"><line x1="1704.1" y1="321.9" x2="1695.3" y2="343.0"/><line x1="1664.9" y1="380.4" x2="1614.9" y2="415.9"/><line x1="1599.2" y1="454.3" x2="1603.4" y2="473.1"/><line x1="1595.9" y1="517.6" x2="1581.6" y2="541.3"/><line x1="1554.2" y1="582.5" x2="1535.6" y2="608.2"/><line x1="1537.5" y1="647.2" x2="1618.4" y2="740.5"/><line x1="1635.7" y1="783.3" x2="1636.2" y2="801.7"/><line x1="1634.6" y1="849.4" x2="1632.8" y2="867.4"/><line x1="1630.3" y1="915.1" x2="1630.2" y2="998.4"/><line x1="1635.0" y1="1045.8" x2="1645.6" y2="1097.6"/><line x1="1641.9" y1="1143.8" x2="1621.9" y2="1196.9"/><line x1="1604.1" y1="1242.1" x2="1595.3" y2="1263.3"/><line x1="1611.4" y1="1294.1" x2="1760.6" y2="1342.8"/><line x1="1808.7" y1="1363.9" x2="1881.1" y2="1404.2"/><line x1="1915.2" y1="1438.7" x2="1960.6" y2="1526.6"/><line x1="1951.1" y1="1563.5" x2="1902.9" y2="1598.9"/><line x1="1858.8" y1="1626.1" x2="1777.9" y2="1667.8"/><line x1="1738.6" y1="1699.1" x2="1689.1" y2="1758.9"/><line x1="1651.0" y1="1791.9" x2="1536.1" y2="1863.4"/><line x1="1532.4" y1="1894.6" x2="1564.6" y2="1925.3"/><line x1="1603.8" y1="1958.1" x2="1696.6" y2="2026.4"/><line x1="1709.3" y1="2064.5" x2="1702.2" y2="2084.4"/><line x1="1709.5" y1="2126.9" x2="1781.0" y2="2218.5"/></g><ellipse cx="1713.5" cy="299.5" rx="20.8" ry="17.5" fill="#0A6DB4" stroke="#075A98" stroke-width="1"/><ellipse cx="1707.2" cy="294.6" rx="10.4" ry="9.6" fill="#6AA6DB"/><ellipse cx="1706.5" cy="294.7" rx="7.3" ry="6.1" fill="#BCD7EF"/><ellipse cx="1706.9" cy="294.5" rx="3.1" ry="2.4" fill="#FFFFFF"/><ellipse cx="1685.9" cy="365.4" rx="20.8" ry="17.5" fill="#0A6DB4" stroke="#075A98" stroke-width="1"/><ellipse cx="1679.6" cy="360.5" rx="10.4" ry="9.6" fill="#6AA6DB"/><ellipse cx="1678.9" cy="360.6" rx="7.3" ry="6.1" fill="#BCD7EF"/><ellipse cx="1679.3" cy="360.4" rx="3.1" ry="2.4" fill="#FFFFFF"/><ellipse cx="1593.9" cy="430.9" rx="20.8" ry="17.5" fill="#0A6DB4" stroke="#075A98" stroke-width="1"/><ellipse cx="1587.6" cy="426.0" rx="10.4" ry="9.6" fill="#6AA6DB"/><ellipse cx="1586.9" cy="426.1" rx="7.3" ry="6.1" fill="#BCD7EF"/><ellipse cx="1587.3" cy="425.9" rx="3.1" ry="2.4" fill="#FFFFFF"/><ellipse cx="1608.7" cy="496.5" rx="20.8" ry="17.5" fill="#0A6DB4" stroke="#075A98" stroke-width="1"/><ellipse cx="1602.4" cy="491.6" rx="10.4" ry="9.6" fill="#6AA6DB"/><ellipse cx="1601.7" cy="491.7" rx="7.3" ry="6.1" fill="#BCD7EF"/><ellipse cx="1602.1" cy="491.5" rx="3.1" ry="2.4" fill="#FFFFFF"/><ellipse cx="1568.8" cy="562.4" rx="20.8" ry="17.5" fill="#0A6DB4" stroke="#075A98" stroke-width="1"/><ellipse cx="1562.5" cy="557.5" rx="10.4" ry="9.6" fill="#6AA6DB"/><ellipse cx="1561.8" cy="557.6" rx="7.3" ry="6.1" fill="#BCD7EF"/><ellipse cx="1562.2" cy="557.4" rx="3.1" ry="2.4" fill="#FFFFFF"/><ellipse cx="1521.0" cy="628.3" rx="20.8" ry="17.5" fill="#0A6DB4" stroke="#075A98" stroke-width="1"/><ellipse cx="1514.7" cy="623.4" rx="10.4" ry="9.6" fill="#6AA6DB"/><ellipse cx="1514.0" cy="623.5" rx="7.3" ry="6.1" fill="#BCD7EF"/><ellipse cx="1514.4" cy="623.3" rx="3.1" ry="2.4" fill="#FFFFFF"/><ellipse cx="1634.9" cy="759.4" rx="20.8" ry="17.5" fill="#0A6DB4" stroke="#075A98" stroke-width="1"/><ellipse cx="1628.6" cy="754.5" rx="10.4" ry="9.6" fill="#6AA6DB"/><ellipse cx="1627.9" cy="754.6" rx="7.3" ry="6.1" fill="#BCD7EF"/><ellipse cx="1628.3" cy="754.4" rx="3.1" ry="2.4" fill="#FFFFFF"/><ellipse cx="1637.0" cy="825.6" rx="20.8" ry="17.5" fill="#0A6DB4" stroke="#075A98" stroke-width="1"/><ellipse cx="1630.7" cy="820.7" rx="10.4" ry="9.6" fill="#6AA6DB"/><ellipse cx="1630.0" cy="820.8" rx="7.3" ry="6.1" fill="#BCD7EF"/><ellipse cx="1630.4" cy="820.6" rx="3.1" ry="2.4" fill="#FFFFFF"/><ellipse cx="1630.4" cy="891.2" rx="20.8" ry="17.5" fill="#0A6DB4" stroke="#075A98" stroke-width="1"/><ellipse cx="1624.1" cy="886.3" rx="10.4" ry="9.6" fill="#6AA6DB"/><ellipse cx="1623.4" cy="886.4" rx="7.3" ry="6.1" fill="#BCD7EF"/><ellipse cx="1623.8" cy="886.2" rx="3.1" ry="2.4" fill="#FFFFFF"/><ellipse cx="1630.1" cy="1022.3" rx="20.8" ry="17.5" fill="#0A6DB4" stroke="#075A98" stroke-width="1"/><ellipse cx="1623.8" cy="1017.4" rx="10.4" ry="9.6" fill="#6AA6DB"/><ellipse cx="1623.1" cy="1017.5" rx="7.3" ry="6.1" fill="#BCD7EF"/><ellipse cx="1623.5" cy="1017.3" rx="3.1" ry="2.4" fill="#FFFFFF"/><ellipse cx="1650.5" cy="1121.1" rx="20.8" ry="17.5" fill="#0A6DB4" stroke="#075A98" stroke-width="1"/><ellipse cx="1644.2" cy="1116.2" rx="10.4" ry="9.6" fill="#6AA6DB"/><ellipse cx="1643.5" cy="1116.3" rx="7.3" ry="6.1" fill="#BCD7EF"/><ellipse cx="1643.9" cy="1116.1" rx="3.1" ry="2.4" fill="#FFFFFF"/><ellipse cx="1613.3" cy="1219.6" rx="20.8" ry="17.5" fill="#0A6DB4" stroke="#075A98" stroke-width="1"/><ellipse cx="1607.0" cy="1214.7" rx="10.4" ry="9.6" fill="#6AA6DB"/><ellipse cx="1606.3" cy="1214.8" rx="7.3" ry="6.1" fill="#BCD7EF"/><ellipse cx="1606.7" cy="1214.6" rx="3.1" ry="2.4" fill="#FFFFFF"/><ellipse cx="1586.1" cy="1285.8" rx="20.8" ry="17.5" fill="#0A6DB4" stroke="#075A98" stroke-width="1"/><ellipse cx="1579.8" cy="1280.9" rx="10.4" ry="9.6" fill="#6AA6DB"/><ellipse cx="1579.1" cy="1281.0" rx="7.3" ry="6.1" fill="#BCD7EF"/><ellipse cx="1579.5" cy="1280.8" rx="3.1" ry="2.4" fill="#FFFFFF"/><ellipse cx="1785.9" cy="1351.1" rx="20.8" ry="17.5" fill="#0A6DB4" stroke="#075A98" stroke-width="1"/><ellipse cx="1779.6" cy="1346.2" rx="10.4" ry="9.6" fill="#6AA6DB"/><ellipse cx="1778.9" cy="1346.3" rx="7.3" ry="6.1" fill="#BCD7EF"/><ellipse cx="1779.3" cy="1346.1" rx="3.1" ry="2.4" fill="#FFFFFF"/><ellipse cx="1903.9" cy="1417.0" rx="20.8" ry="17.5" fill="#0A6DB4" stroke="#075A98" stroke-width="1"/><ellipse cx="1897.6" cy="1412.1" rx="10.4" ry="9.6" fill="#6AA6DB"/><ellipse cx="1896.9" cy="1412.2" rx="7.3" ry="6.1" fill="#BCD7EF"/><ellipse cx="1897.3" cy="1412.0" rx="3.1" ry="2.4" fill="#FFFFFF"/><ellipse cx="1971.9" cy="1548.3" rx="20.8" ry="17.5" fill="#0A6DB4" stroke="#075A98" stroke-width="1"/><ellipse cx="1965.6" cy="1543.4" rx="10.4" ry="9.6" fill="#6AA6DB"/><ellipse cx="1964.9" cy="1543.5" rx="7.3" ry="6.1" fill="#BCD7EF"/><ellipse cx="1965.3" cy="1543.3" rx="3.1" ry="2.4" fill="#FFFFFF"/><ellipse cx="1882.1" cy="1614.1" rx="20.8" ry="17.5" fill="#0A6DB4" stroke="#075A98" stroke-width="1"/><ellipse cx="1875.8" cy="1609.2" rx="10.4" ry="9.6" fill="#6AA6DB"/><ellipse cx="1875.1" cy="1609.3" rx="7.3" ry="6.1" fill="#BCD7EF"/><ellipse cx="1875.5" cy="1609.1" rx="3.1" ry="2.4" fill="#FFFFFF"/><ellipse cx="1754.6" cy="1679.8" rx="20.8" ry="17.5" fill="#0A6DB4" stroke="#075A98" stroke-width="1"/><ellipse cx="1748.3" cy="1674.9" rx="10.4" ry="9.6" fill="#6AA6DB"/><ellipse cx="1747.6" cy="1675.0" rx="7.3" ry="6.1" fill="#BCD7EF"/><ellipse cx="1748.0" cy="1674.8" rx="3.1" ry="2.4" fill="#FFFFFF"/><ellipse cx="1673.1" cy="1778.2" rx="20.8" ry="17.5" fill="#0A6DB4" stroke="#075A98" stroke-width="1"/><ellipse cx="1666.8" cy="1773.3" rx="10.4" ry="9.6" fill="#6AA6DB"/><ellipse cx="1666.1" cy="1773.4" rx="7.3" ry="6.1" fill="#BCD7EF"/><ellipse cx="1666.5" cy="1773.2" rx="3.1" ry="2.4" fill="#FFFFFF"/><ellipse cx="1514.0" cy="1877.1" rx="20.8" ry="17.5" fill="#0A6DB4" stroke="#075A98" stroke-width="1"/><ellipse cx="1507.7" cy="1872.2" rx="10.4" ry="9.6" fill="#6AA6DB"/><ellipse cx="1507.0" cy="1872.3" rx="7.3" ry="6.1" fill="#BCD7EF"/><ellipse cx="1507.4" cy="1872.1" rx="3.1" ry="2.4" fill="#FFFFFF"/><ellipse cx="1583.0" cy="1942.8" rx="20.8" ry="17.5" fill="#0A6DB4" stroke="#075A98" stroke-width="1"/><ellipse cx="1576.7" cy="1937.9" rx="10.4" ry="9.6" fill="#6AA6DB"/><ellipse cx="1576.0" cy="1938.0" rx="7.3" ry="6.1" fill="#BCD7EF"/><ellipse cx="1576.4" cy="1937.8" rx="3.1" ry="2.4" fill="#FFFFFF"/><ellipse cx="1717.4" cy="2041.7" rx="20.8" ry="17.5" fill="#0A6DB4" stroke="#075A98" stroke-width="1"/><ellipse cx="1711.1" cy="2036.8" rx="10.4" ry="9.6" fill="#6AA6DB"/><ellipse cx="1710.4" cy="2036.9" rx="7.3" ry="6.1" fill="#BCD7EF"/><ellipse cx="1710.8" cy="2036.7" rx="3.1" ry="2.4" fill="#FFFFFF"/><ellipse cx="1694.1" cy="2107.2" rx="20.8" ry="17.5" fill="#0A6DB4" stroke="#075A98" stroke-width="1"/><ellipse cx="1687.8" cy="2102.3" rx="10.4" ry="9.6" fill="#6AA6DB"/><ellipse cx="1687.1" cy="2102.4" rx="7.3" ry="6.1" fill="#BCD7EF"/><ellipse cx="1687.5" cy="2102.2" rx="3.1" ry="2.4" fill="#FFFFFF"/><ellipse cx="1796.4" cy="2238.2" rx="20.8" ry="17.5" fill="#0A6DB4" stroke="#075A98" stroke-width="1"/><ellipse cx="1790.1" cy="2233.3" rx="10.4" ry="9.6" fill="#6AA6DB"/><ellipse cx="1789.4" cy="2233.4" rx="7.3" ry="6.1" fill="#BCD7EF"/><ellipse cx="1789.8" cy="2233.2" rx="3.1" ry="2.4" fill="#FFFFFF"/><rect x="1425.2" y="348.8" width="747.2" height="55.19999999999999" fill="#C8C9CA"/><rect x="1425.2" y="612.8" width="747.2" height="130.70000000000005" fill="#C8C9CA"/><rect x="1425.2" y="1244.4" width="747.2" height="165.29999999999995" fill="#C8C9CA"/><rect x="1425.2" y="1864.5" width="747.2" height="157.70000000000005" fill="#C8C9CA"/><g clip-path="url(#bdR)"><g stroke="#CC560B" stroke-width="4.2" stroke-linecap="round"><line x1="1488.1" y1="444.9" x2="1547.3" y2="482.5"/><line x1="1554.3" y1="516.5" x2="1535.0" y2="542.4"/><line x1="1541.8" y1="576.6" x2="1599.1" y2="614.1"/></g><g stroke="#CC560B" stroke-width="4.2" stroke-linecap="round"></g><g stroke="#CC560B" stroke-width="4.2" stroke-linecap="round"><line x1="1638.2" y1="1306.5" x2="1653.9" y2="1330.8"/><line x1="1689.7" y1="1365.0" x2="1753.5" y2="1403.5"/><line x1="1786.7" y1="1438.8" x2="1830.7" y2="1526.5"/><line x1="1827.6" y1="1568.7" x2="1810.4" y2="1593.7"/><line x1="1771.9" y1="1624.1" x2="1659.5" y2="1669.8"/><line x1="1624.2" y1="1701.7" x2="1597.1" y2="1756.3"/></g><ellipse cx="1466.2" cy="430.9" rx="20.8" ry="17.5" fill="#CC560A" stroke="#B54A06" stroke-width="1"/><ellipse cx="1459.9" cy="426.0" rx="10.4" ry="9.6" fill="#D28A5A"/><ellipse cx="1459.2" cy="426.1" rx="7.3" ry="6.1" fill="#D6B3A0"/><ellipse cx="1459.6" cy="425.9" rx="3.1" ry="2.4" fill="#CDCBCB"/><ellipse cx="1569.2" cy="496.5" rx="20.8" ry="17.5" fill="#CC560A" stroke="#B54A06" stroke-width="1"/><ellipse cx="1562.9" cy="491.6" rx="10.4" ry="9.6" fill="#D28A5A"/><ellipse cx="1562.2" cy="491.7" rx="7.3" ry="6.1" fill="#D6B3A0"/><ellipse cx="1562.6" cy="491.5" rx="3.1" ry="2.4" fill="#CDCBCB"/><ellipse cx="1520.1" cy="562.4" rx="20.8" ry="17.5" fill="#CC560A" stroke="#B54A06" stroke-width="1"/><ellipse cx="1513.8" cy="557.5" rx="10.4" ry="9.6" fill="#D28A5A"/><ellipse cx="1513.1" cy="557.6" rx="7.3" ry="6.1" fill="#D6B3A0"/><ellipse cx="1513.5" cy="557.4" rx="3.1" ry="2.4" fill="#CDCBCB"/><ellipse cx="1620.8" cy="628.3" rx="20.8" ry="17.5" fill="#CC560A" stroke="#B54A06" stroke-width="1"/><ellipse cx="1614.5" cy="623.4" rx="10.4" ry="9.6" fill="#D28A5A"/><ellipse cx="1613.8" cy="623.5" rx="7.3" ry="6.1" fill="#D6B3A0"/><ellipse cx="1614.2" cy="623.3" rx="3.1" ry="2.4" fill="#CDCBCB"/><ellipse cx="1676.0" cy="825.6" rx="20.8" ry="17.5" fill="#CC560A" stroke="#B54A06" stroke-width="1"/><ellipse cx="1669.7" cy="820.7" rx="10.4" ry="9.6" fill="#D28A5A"/><ellipse cx="1669.0" cy="820.8" rx="7.3" ry="6.1" fill="#D6B3A0"/><ellipse cx="1669.4" cy="820.6" rx="3.1" ry="2.4" fill="#CDCBCB"/><ellipse cx="1624.7" cy="1285.8" rx="20.8" ry="17.5" fill="#CC560A" stroke="#B54A06" stroke-width="1"/><ellipse cx="1618.4" cy="1280.9" rx="10.4" ry="9.6" fill="#D28A5A"/><ellipse cx="1617.7" cy="1281.0" rx="7.3" ry="6.1" fill="#D6B3A0"/><ellipse cx="1618.1" cy="1280.8" rx="3.1" ry="2.4" fill="#CDCBCB"/><ellipse cx="1667.4" cy="1351.5" rx="20.8" ry="17.5" fill="#CC560A" stroke="#B54A06" stroke-width="1"/><ellipse cx="1661.1" cy="1346.6" rx="10.4" ry="9.6" fill="#D28A5A"/><ellipse cx="1660.4" cy="1346.7" rx="7.3" ry="6.1" fill="#D6B3A0"/><ellipse cx="1660.8" cy="1346.5" rx="3.1" ry="2.4" fill="#CDCBCB"/><ellipse cx="1775.8" cy="1417.0" rx="20.8" ry="17.5" fill="#CC560A" stroke="#B54A06" stroke-width="1"/><ellipse cx="1769.5" cy="1412.1" rx="10.4" ry="9.6" fill="#D28A5A"/><ellipse cx="1768.8" cy="1412.2" rx="7.3" ry="6.1" fill="#D6B3A0"/><ellipse cx="1769.2" cy="1412.0" rx="3.1" ry="2.4" fill="#CDCBCB"/><ellipse cx="1841.6" cy="1548.3" rx="20.8" ry="17.5" fill="#CC560A" stroke="#B54A06" stroke-width="1"/><ellipse cx="1835.3" cy="1543.4" rx="10.4" ry="9.6" fill="#D28A5A"/><ellipse cx="1834.6" cy="1543.5" rx="7.3" ry="6.1" fill="#D6B3A0"/><ellipse cx="1835.0" cy="1543.3" rx="3.1" ry="2.4" fill="#CDCBCB"/><ellipse cx="1796.4" cy="1614.1" rx="20.8" ry="17.5" fill="#CC560A" stroke="#B54A06" stroke-width="1"/><ellipse cx="1790.1" cy="1609.2" rx="10.4" ry="9.6" fill="#D28A5A"/><ellipse cx="1789.4" cy="1609.3" rx="7.3" ry="6.1" fill="#D6B3A0"/><ellipse cx="1789.8" cy="1609.1" rx="3.1" ry="2.4" fill="#CDCBCB"/><ellipse cx="1635.0" cy="1679.8" rx="20.8" ry="17.5" fill="#CC560A" stroke="#B54A06" stroke-width="1"/><ellipse cx="1628.7" cy="1674.9" rx="10.4" ry="9.6" fill="#D28A5A"/><ellipse cx="1628.0" cy="1675.0" rx="7.3" ry="6.1" fill="#D6B3A0"/><ellipse cx="1628.4" cy="1674.8" rx="3.1" ry="2.4" fill="#CDCBCB"/><ellipse cx="1586.3" cy="1778.2" rx="20.8" ry="17.5" fill="#CC560A" stroke="#B54A06" stroke-width="1"/><ellipse cx="1580.0" cy="1773.3" rx="10.4" ry="9.6" fill="#D28A5A"/><ellipse cx="1579.3" cy="1773.4" rx="7.3" ry="6.1" fill="#D6B3A0"/><ellipse cx="1579.7" cy="1773.2" rx="3.1" ry="2.4" fill="#CDCBCB"/><g stroke="#023C86" stroke-width="4.2" stroke-linecap="round"><line x1="1704.1" y1="321.9" x2="1695.3" y2="343.0"/><line x1="1664.9" y1="380.4" x2="1614.9" y2="415.9"/><line x1="1599.2" y1="454.3" x2="1603.4" y2="473.1"/><line x1="1595.9" y1="517.6" x2="1581.6" y2="541.3"/><line x1="1554.2" y1="582.5" x2="1535.6" y2="608.2"/><line x1="1537.5" y1="647.2" x2="1618.4" y2="740.5"/><line x1="1635.7" y1="783.3" x2="1636.2" y2="801.7"/><line x1="1634.6" y1="849.4" x2="1632.8" y2="867.4"/><line x1="1630.3" y1="915.1" x2="1630.2" y2="998.4"/><line x1="1635.0" y1="1045.8" x2="1645.6" y2="1097.6"/><line x1="1641.9" y1="1143.8" x2="1621.9" y2="1196.9"/><line x1="1604.1" y1="1242.1" x2="1595.3" y2="1263.3"/><line x1="1611.4" y1="1294.1" x2="1760.6" y2="1342.8"/><line x1="1808.7" y1="1363.9" x2="1881.1" y2="1404.2"/><line x1="1915.2" y1="1438.7" x2="1960.6" y2="1526.6"/><line x1="1951.1" y1="1563.5" x2="1902.9" y2="1598.9"/><line x1="1858.8" y1="1626.1" x2="1777.9" y2="1667.8"/><line x1="1738.6" y1="1699.1" x2="1689.1" y2="1758.9"/><line x1="1651.0" y1="1791.9" x2="1536.1" y2="1863.4"/><line x1="1532.4" y1="1894.6" x2="1564.6" y2="1925.3"/><line x1="1603.8" y1="1958.1" x2="1696.6" y2="2026.4"/><line x1="1709.3" y1="2064.5" x2="1702.2" y2="2084.4"/><line x1="1709.5" y1="2126.9" x2="1781.0" y2="2218.5"/></g><ellipse cx="1713.5" cy="299.5" rx="20.8" ry="17.5" fill="#023C87" stroke="#012F6C" stroke-width="1"/><ellipse cx="1707.2" cy="294.6" rx="10.4" ry="9.6" fill="#4F78A8"/><ellipse cx="1706.5" cy="294.7" rx="7.3" ry="6.1" fill="#98AECB"/><ellipse cx="1706.9" cy="294.5" rx="3.1" ry="2.4" fill="#CACBCF"/><ellipse cx="1685.9" cy="365.4" rx="20.8" ry="17.5" fill="#023C87" stroke="#012F6C" stroke-width="1"/><ellipse cx="1679.6" cy="360.5" rx="10.4" ry="9.6" fill="#4F78A8"/><ellipse cx="1678.9" cy="360.6" rx="7.3" ry="6.1" fill="#98AECB"/><ellipse cx="1679.3" cy="360.4" rx="3.1" ry="2.4" fill="#CACBCF"/><ellipse cx="1593.9" cy="430.9" rx="20.8" ry="17.5" fill="#023C87" stroke="#012F6C" stroke-width="1"/><ellipse cx="1587.6" cy="426.0" rx="10.4" ry="9.6" fill="#4F78A8"/><ellipse cx="1586.9" cy="426.1" rx="7.3" ry="6.1" fill="#98AECB"/><ellipse cx="1587.3" cy="425.9" rx="3.1" ry="2.4" fill="#CACBCF"/><ellipse cx="1608.7" cy="496.5" rx="20.8" ry="17.5" fill="#023C87" stroke="#012F6C" stroke-width="1"/><ellipse cx="1602.4" cy="491.6" rx="10.4" ry="9.6" fill="#4F78A8"/><ellipse cx="1601.7" cy="491.7" rx="7.3" ry="6.1" fill="#98AECB"/><ellipse cx="1602.1" cy="491.5" rx="3.1" ry="2.4" fill="#CACBCF"/><ellipse cx="1568.8" cy="562.4" rx="20.8" ry="17.5" fill="#023C87" stroke="#012F6C" stroke-width="1"/><ellipse cx="1562.5" cy="557.5" rx="10.4" ry="9.6" fill="#4F78A8"/><ellipse cx="1561.8" cy="557.6" rx="7.3" ry="6.1" fill="#98AECB"/><ellipse cx="1562.2" cy="557.4" rx="3.1" ry="2.4" fill="#CACBCF"/><ellipse cx="1521.0" cy="628.3" rx="20.8" ry="17.5" fill="#023C87" stroke="#012F6C" stroke-width="1"/><ellipse cx="1514.7" cy="623.4" rx="10.4" ry="9.6" fill="#4F78A8"/><ellipse cx="1514.0" cy="623.5" rx="7.3" ry="6.1" fill="#98AECB"/><ellipse cx="1514.4" cy="623.3" rx="3.1" ry="2.4" fill="#CACBCF"/><ellipse cx="1634.9" cy="759.4" rx="20.8" ry="17.5" fill="#023C87" stroke="#012F6C" stroke-width="1"/><ellipse cx="1628.6" cy="754.5" rx="10.4" ry="9.6" fill="#4F78A8"/><ellipse cx="1627.9" cy="754.6" rx="7.3" ry="6.1" fill="#98AECB"/><ellipse cx="1628.3" cy="754.4" rx="3.1" ry="2.4" fill="#CACBCF"/><ellipse cx="1637.0" cy="825.6" rx="20.8" ry="17.5" fill="#023C87" stroke="#012F6C" stroke-width="1"/><ellipse cx="1630.7" cy="820.7" rx="10.4" ry="9.6" fill="#4F78A8"/><ellipse cx="1630.0" cy="820.8" rx="7.3" ry="6.1" fill="#98AECB"/><ellipse cx="1630.4" cy="820.6" rx="3.1" ry="2.4" fill="#CACBCF"/><ellipse cx="1630.4" cy="891.2" rx="20.8" ry="17.5" fill="#023C87" stroke="#012F6C" stroke-width="1"/><ellipse cx="1624.1" cy="886.3" rx="10.4" ry="9.6" fill="#4F78A8"/><ellipse cx="1623.4" cy="886.4" rx="7.3" ry="6.1" fill="#98AECB"/><ellipse cx="1623.8" cy="886.2" rx="3.1" ry="2.4" fill="#CACBCF"/><ellipse cx="1630.1" cy="1022.3" rx="20.8" ry="17.5" fill="#023C87" stroke="#012F6C" stroke-width="1"/><ellipse cx="1623.8" cy="1017.4" rx="10.4" ry="9.6" fill="#4F78A8"/><ellipse cx="1623.1" cy="1017.5" rx="7.3" ry="6.1" fill="#98AECB"/><ellipse cx="1623.5" cy="1017.3" rx="3.1" ry="2.4" fill="#CACBCF"/><ellipse cx="1650.5" cy="1121.1" rx="20.8" ry="17.5" fill="#023C87" stroke="#012F6C" stroke-width="1"/><ellipse cx="1644.2" cy="1116.2" rx="10.4" ry="9.6" fill="#4F78A8"/><ellipse cx="1643.5" cy="1116.3" rx="7.3" ry="6.1" fill="#98AECB"/><ellipse cx="1643.9" cy="1116.1" rx="3.1" ry="2.4" fill="#CACBCF"/><ellipse cx="1613.3" cy="1219.6" rx="20.8" ry="17.5" fill="#023C87" stroke="#012F6C" stroke-width="1"/><ellipse cx="1607.0" cy="1214.7" rx="10.4" ry="9.6" fill="#4F78A8"/><ellipse cx="1606.3" cy="1214.8" rx="7.3" ry="6.1" fill="#98AECB"/><ellipse cx="1606.7" cy="1214.6" rx="3.1" ry="2.4" fill="#CACBCF"/><ellipse cx="1586.1" cy="1285.8" rx="20.8" ry="17.5" fill="#023C87" stroke="#012F6C" stroke-width="1"/><ellipse cx="1579.8" cy="1280.9" rx="10.4" ry="9.6" fill="#4F78A8"/><ellipse cx="1579.1" cy="1281.0" rx="7.3" ry="6.1" fill="#98AECB"/><ellipse cx="1579.5" cy="1280.8" rx="3.1" ry="2.4" fill="#CACBCF"/><ellipse cx="1785.9" cy="1351.1" rx="20.8" ry="17.5" fill="#023C87" stroke="#012F6C" stroke-width="1"/><ellipse cx="1779.6" cy="1346.2" rx="10.4" ry="9.6" fill="#4F78A8"/><ellipse cx="1778.9" cy="1346.3" rx="7.3" ry="6.1" fill="#98AECB"/><ellipse cx="1779.3" cy="1346.1" rx="3.1" ry="2.4" fill="#CACBCF"/><ellipse cx="1903.9" cy="1417.0" rx="20.8" ry="17.5" fill="#023C87" stroke="#012F6C" stroke-width="1"/><ellipse cx="1897.6" cy="1412.1" rx="10.4" ry="9.6" fill="#4F78A8"/><ellipse cx="1896.9" cy="1412.2" rx="7.3" ry="6.1" fill="#98AECB"/><ellipse cx="1897.3" cy="1412.0" rx="3.1" ry="2.4" fill="#CACBCF"/><ellipse cx="1971.9" cy="1548.3" rx="20.8" ry="17.5" fill="#023C87" stroke="#012F6C" stroke-width="1"/><ellipse cx="1965.6" cy="1543.4" rx="10.4" ry="9.6" fill="#4F78A8"/><ellipse cx="1964.9" cy="1543.5" rx="7.3" ry="6.1" fill="#98AECB"/><ellipse cx="1965.3" cy="1543.3" rx="3.1" ry="2.4" fill="#CACBCF"/><ellipse cx="1882.1" cy="1614.1" rx="20.8" ry="17.5" fill="#023C87" stroke="#012F6C" stroke-width="1"/><ellipse cx="1875.8" cy="1609.2" rx="10.4" ry="9.6" fill="#4F78A8"/><ellipse cx="1875.1" cy="1609.3" rx="7.3" ry="6.1" fill="#98AECB"/><ellipse cx="1875.5" cy="1609.1" rx="3.1" ry="2.4" fill="#CACBCF"/><ellipse cx="1754.6" cy="1679.8" rx="20.8" ry="17.5" fill="#023C87" stroke="#012F6C" stroke-width="1"/><ellipse cx="1748.3" cy="1674.9" rx="10.4" ry="9.6" fill="#4F78A8"/><ellipse cx="1747.6" cy="1675.0" rx="7.3" ry="6.1" fill="#98AECB"/><ellipse cx="1748.0" cy="1674.8" rx="3.1" ry="2.4" fill="#CACBCF"/><ellipse cx="1673.1" cy="1778.2" rx="20.8" ry="17.5" fill="#023C87" stroke="#012F6C" stroke-width="1"/><ellipse cx="1666.8" cy="1773.3" rx="10.4" ry="9.6" fill="#4F78A8"/><ellipse cx="1666.1" cy="1773.4" rx="7.3" ry="6.1" fill="#98AECB"/><ellipse cx="1666.5" cy="1773.2" rx="3.1" ry="2.4" fill="#CACBCF"/><ellipse cx="1514.0" cy="1877.1" rx="20.8" ry="17.5" fill="#023C87" stroke="#012F6C" stroke-width="1"/><ellipse cx="1507.7" cy="1872.2" rx="10.4" ry="9.6" fill="#4F78A8"/><ellipse cx="1507.0" cy="1872.3" rx="7.3" ry="6.1" fill="#98AECB"/><ellipse cx="1507.4" cy="1872.1" rx="3.1" ry="2.4" fill="#CACBCF"/><ellipse cx="1583.0" cy="1942.8" rx="20.8" ry="17.5" fill="#023C87" stroke="#012F6C" stroke-width="1"/><ellipse cx="1576.7" cy="1937.9" rx="10.4" ry="9.6" fill="#4F78A8"/><ellipse cx="1576.0" cy="1938.0" rx="7.3" ry="6.1" fill="#98AECB"/><ellipse cx="1576.4" cy="1937.8" rx="3.1" ry="2.4" fill="#CACBCF"/><ellipse cx="1717.4" cy="2041.7" rx="20.8" ry="17.5" fill="#023C87" stroke="#012F6C" stroke-width="1"/><ellipse cx="1711.1" cy="2036.8" rx="10.4" ry="9.6" fill="#4F78A8"/><ellipse cx="1710.4" cy="2036.9" rx="7.3" ry="6.1" fill="#98AECB"/><ellipse cx="1710.8" cy="2036.7" rx="3.1" ry="2.4" fill="#CACBCF"/><ellipse cx="1694.1" cy="2107.2" rx="20.8" ry="17.5" fill="#023C87" stroke="#012F6C" stroke-width="1"/><ellipse cx="1687.8" cy="2102.3" rx="10.4" ry="9.6" fill="#4F78A8"/><ellipse cx="1687.1" cy="2102.4" rx="7.3" ry="6.1" fill="#98AECB"/><ellipse cx="1687.5" cy="2102.2" rx="3.1" ry="2.4" fill="#CACBCF"/><ellipse cx="1796.4" cy="2238.2" rx="20.8" ry="17.5" fill="#023C87" stroke="#012F6C" stroke-width="1"/><ellipse cx="1790.1" cy="2233.3" rx="10.4" ry="9.6" fill="#4F78A8"/><ellipse cx="1789.4" cy="2233.4" rx="7.3" ry="6.1" fill="#98AECB"/><ellipse cx="1789.8" cy="2233.2" rx="3.1" ry="2.4" fill="#CACBCF"/></g></g><rect x="253.1" y="262.6" width="8.2" height="1973.0" fill="#000"/><rect x="1012.4" y="262.6" width="8.2" height="1973.0" fill="#000"/><rect x="228.1" y="261.0" width="26" height="7.2" fill="#000"/><rect x="239.1" y="425.4" width="15" height="7.2" fill="#000"/><rect x="228.1" y="589.8" width="26" height="7.2" fill="#000"/><rect x="239.1" y="754.2" width="15" height="7.2" fill="#000"/><rect x="228.1" y="918.6" width="26" height="7.2" fill="#000"/><rect x="239.1" y="1083.0" width="15" height="7.2" fill="#000"/><rect x="228.1" y="1247.4" width="26" height="7.2" fill="#000"/><rect x="239.1" y="1411.8" width="15" height="7.2" fill="#000"/><rect x="228.1" y="1576.2" width="26" height="7.2" fill="#000"/><rect x="239.1" y="1740.6" width="15" height="7.2" fill="#000"/><rect x="228.1" y="1905.0" width="26" height="7.2" fill="#000"/><rect x="239.1" y="2069.4" width="15" height="7.2" fill="#000"/><rect x="228.1" y="2233.8" width="26" height="7.2" fill="#000"/><rect x="253.1" y="259.1" width="767.5" height="7" fill="#F7820C"/><rect x="253.0" y="238.1" width="8.4" height="22" fill="#F7820C"/><rect x="442.8" y="248.1" width="8.4" height="12" fill="#F7820C"/><rect x="632.6" y="238.1" width="8.4" height="22" fill="#F7820C"/><rect x="822.5" y="248.1" width="8.4" height="12" fill="#F7820C"/><rect x="1012.3" y="238.1" width="8.4" height="22" fill="#F7820C"/><rect x="253.1" y="2232.2" width="767.5" height="6.8" fill="#0B6CB3"/><rect x="253.0" y="2238.0" width="8.4" height="21" fill="#0B6CB3"/><rect x="442.8" y="2238.0" width="8.4" height="12" fill="#0B6CB3"/><rect x="632.6" y="2238.0" width="8.4" height="21" fill="#0B6CB3"/><rect x="822.5" y="2238.0" width="8.4" height="12" fill="#0B6CB3"/><rect x="1012.3" y="2238.0" width="8.4" height="21" fill="#0B6CB3"/><rect x="1417.0" y="264.8" width="8.2" height="1974.6" fill="#000"/><rect x="2177.1" y="264.8" width="8.2" height="1974.6" fill="#000"/><rect x="1392.0" y="264.0" width="26" height="7.2" fill="#000"/><rect x="1403.0" y="428.2" width="15" height="7.2" fill="#000"/><rect x="1392.0" y="592.5" width="26" height="7.2" fill="#000"/><rect x="1403.0" y="756.8" width="15" height="7.2" fill="#000"/><rect x="1392.0" y="921.0" width="26" height="7.2" fill="#000"/><rect x="1403.0" y="1085.2" width="15" height="7.2" fill="#000"/><rect x="1392.0" y="1249.5" width="26" height="7.2" fill="#000"/><rect x="1403.0" y="1413.8" width="15" height="7.2" fill="#000"/><rect x="1392.0" y="1578.0" width="26" height="7.2" fill="#000"/><rect x="1403.0" y="1742.2" width="15" height="7.2" fill="#000"/><rect x="1392.0" y="1906.5" width="26" height="7.2" fill="#000"/><rect x="1403.0" y="2070.8" width="15" height="7.2" fill="#000"/><rect x="1392.0" y="2235.0" width="26" height="7.2" fill="#000"/><rect x="1417.0" y="261.3" width="768.3" height="7" fill="#F7820C"/><rect x="1416.9" y="240.3" width="8.4" height="22" fill="#F7820C"/><rect x="1606.9" y="250.3" width="8.4" height="12" fill="#F7820C"/><rect x="1796.9" y="240.3" width="8.4" height="22" fill="#F7820C"/><rect x="1987.0" y="250.3" width="8.4" height="12" fill="#F7820C"/><rect x="2177.0" y="240.3" width="8.4" height="22" fill="#F7820C"/><rect x="1417.0" y="2236.0" width="768.3" height="6.8" fill="#0B6CB3"/><rect x="1416.9" y="2241.8" width="8.4" height="21" fill="#0B6CB3"/><rect x="1606.9" y="2241.8" width="8.4" height="12" fill="#0B6CB3"/><rect x="1796.9" y="2241.8" width="8.4" height="21" fill="#0B6CB3"/><rect x="1987.0" y="2241.8" width="8.4" height="12" fill="#0B6CB3"/><rect x="2177.0" y="2241.8" width="8.4" height="21" fill="#0B6CB3"/><g font-family="&quot;Liberation Serif&quot;, &quot;DejaVu Serif&quot;, serif"><text transform="translate(403.15,78.56) scale(1.0128,0.8366)" font-size="100" fill="#F7820C">δ</text><text transform="translate(451.80,43.62) scale(0.6115,0.5821)" font-size="100" fill="#F7820C">13</text><text transform="translate(514.61,78.17) scale(0.9735,0.8672)" font-size="100" fill="#F7820C">CH</text><text transform="translate(648.71,101.20) scale(0.6457,0.5938)" font-size="100" fill="#F7820C">4</text><text transform="translate(698.74,78.42) scale(0.9652,0.8322)" font-size="100" fill="#F7820C">(‰)</text><text transform="translate(1581.45,85.06) scale(1.0128,0.8366)" font-size="100" fill="#F7820C">δ</text><text transform="translate(1630.10,50.12) scale(0.6115,0.5821)" font-size="100" fill="#F7820C">13</text><text transform="translate(1692.91,84.67) scale(0.9735,0.8672)" font-size="100" fill="#F7820C">CH</text><text transform="translate(1827.01,107.70) scale(0.6457,0.5938)" font-size="100" fill="#F7820C">4</text><text transform="translate(1877.04,84.92) scale(0.9652,0.8322)" font-size="100" fill="#F7820C">(‰)</text><text transform="translate(373.23,2472.06) scale(1.0179,0.8366)" font-size="100" fill="#0B6CB3">δ</text><text transform="translate(422.29,2436.43) scale(0.6011,0.5731)" font-size="100" fill="#0B6CB3">13</text><text transform="translate(484.46,2470.78) scale(1.0088,0.8582)" font-size="100" fill="#0B6CB3">C</text><text transform="translate(549.55,2493.43) scale(0.6615,0.5836)" font-size="100" fill="#0B6CB3">CO2</text><text transform="translate(690.53,2471.36) scale(0.9684,0.8211)" font-size="100" fill="#0B6CB3">(‰)</text><text transform="translate(1538.33,2471.76) scale(1.0179,0.8366)" font-size="100" fill="#0B6CB3">δ</text><text transform="translate(1587.39,2436.13) scale(0.6011,0.5731)" font-size="100" fill="#0B6CB3">13</text><text transform="translate(1649.56,2470.48) scale(1.0088,0.8582)" font-size="100" fill="#0B6CB3">C</text><text transform="translate(1714.65,2493.13) scale(0.6615,0.5836)" font-size="100" fill="#0B6CB3">CO2</text><text transform="translate(1855.63,2471.06) scale(0.9684,0.8211)" font-size="100" fill="#0B6CB3">(‰)</text><text transform="translate(73.07,1447.40) rotate(-90) scale(0.8350,0.9489)" font-size="100" fill="#000">Depth (mbsf)</text><text transform="translate(1026.07,474.42) scale(0.6619,0.6388)" font-size="100" fill="#312A29">S</text><text transform="translate(1064.01,475.00) scale(0.6289,0.6385)" font-size="100" fill="#312A29">M</text><text transform="translate(1123.28,475.00) scale(0.6088,0.6385)" font-size="100" fill="#312A29">T</text><text transform="translate(1161.24,475.00) scale(0.6725,0.6385)" font-size="100" fill="#312A29">Z</text><text transform="translate(1208.01,475.00) scale(0.4543,0.6288)" font-size="100" fill="#312A29">1</text><text transform="translate(1024.07,628.04) scale(0.6619,0.6284)" font-size="100" fill="#312A29">S</text><text transform="translate(1062.01,628.60) scale(0.6289,0.6277)" font-size="100" fill="#312A29">M</text><text transform="translate(1121.28,628.60) scale(0.6088,0.6277)" font-size="100" fill="#312A29">T</text><text transform="translate(1159.24,628.60) scale(0.6725,0.6277)" font-size="100" fill="#312A29">Z</text><text transform="translate(1201.55,629.30) scale(0.6625,0.6477)" font-size="100" fill="#312A29">2</text><text transform="translate(1021.87,1036.14) scale(0.6619,0.6299)" font-size="100" fill="#312A29">S</text><text transform="translate(1059.81,1036.70) scale(0.6289,0.6292)" font-size="100" fill="#312A29">M</text><text transform="translate(1119.08,1036.70) scale(0.6088,0.6292)" font-size="100" fill="#312A29">T</text><text transform="translate(1157.04,1036.70) scale(0.6725,0.6292)" font-size="100" fill="#312A29">Z</text><text transform="translate(1200.32,1036.76) scale(0.5561,0.6394)" font-size="100" fill="#312A29">3</text><text transform="translate(1031.97,1835.51) scale(0.6619,0.6463)" font-size="100" fill="#312A29">S</text><text transform="translate(1069.91,1836.10) scale(0.6289,0.6462)" font-size="100" fill="#312A29">M</text><text transform="translate(1129.18,1836.10) scale(0.6088,0.6462)" font-size="100" fill="#312A29">T</text><text transform="translate(1167.14,1836.10) scale(0.6725,0.6462)" font-size="100" fill="#312A29">Z</text><text transform="translate(1209.89,1836.10) scale(0.6065,0.6462)" font-size="100" fill="#312A29">4</text><text transform="translate(2187.17,401.12) scale(0.6619,0.6388)" font-size="100" fill="#312A29">S</text><text transform="translate(2225.11,401.70) scale(0.6289,0.6385)" font-size="100" fill="#312A29">M</text><text transform="translate(2284.38,401.70) scale(0.6088,0.6385)" font-size="100" fill="#312A29">T</text><text transform="translate(2322.34,401.70) scale(0.6725,0.6385)" font-size="100" fill="#312A29">Z</text><text transform="translate(2369.81,401.70) scale(0.4543,0.6288)" font-size="100" fill="#312A29">1</text><text transform="translate(2187.17,710.32) scale(0.6619,0.6388)" font-size="100" fill="#312A29">S</text><text transform="translate(2225.11,710.90) scale(0.6289,0.6385)" font-size="100" fill="#312A29">M</text><text transform="translate(2284.38,710.90) scale(0.6088,0.6385)" font-size="100" fill="#312A29">T</text><text transform="translate(2322.34,710.90) scale(0.6725,0.6385)" font-size="100" fill="#312A29">Z</text><text transform="translate(2364.75,711.60) scale(0.6625,0.6585)" font-size="100" fill="#312A29">2</text><text transform="translate(2194.47,1356.71) scale(0.6619,0.6433)" font-size="100" fill="#312A29">S</text><text transform="translate(2232.41,1357.30) scale(0.6289,0.6431)" font-size="100" fill="#312A29">M</text><text transform="translate(2291.68,1357.30) scale(0.6088,0.6431)" font-size="100" fill="#312A29">T</text><text transform="translate(2329.64,1357.30) scale(0.6725,0.6431)" font-size="100" fill="#312A29">Z</text><text transform="translate(2373.52,1357.35) scale(0.5561,0.6530)" font-size="100" fill="#312A29">3</text><text transform="translate(2190.67,1977.43) scale(0.6619,0.6373)" font-size="100" fill="#312A29">S</text><text transform="translate(2228.61,1978.00) scale(0.6289,0.6369)" font-size="100" fill="#312A29">M</text><text transform="translate(2287.88,1978.00) scale(0.6088,0.6369)" font-size="100" fill="#312A29">T</text><text transform="translate(2325.84,1978.00) scale(0.6725,0.6369)" font-size="100" fill="#312A29">Z</text><text transform="translate(2368.29,1978.00) scale(0.6065,0.6369)" font-size="100" fill="#312A29">4</text><text transform="translate(285.80,2190.85) scale(0.8503,0.7746)" font-size="100" font-weight="bold" fill="#000">YS 4</text><text transform="translate(1443.68,2194.16) scale(0.8586,0.7687)" font-size="100" font-weight="bold" fill="#000">YS 7</text><text transform="translate(160.54,287.21) scale(0.9905,0.8463)" font-size="100" fill="#000">0</text><text transform="translate(1324.65,289.80) scale(0.9881,0.8493)" font-size="100" fill="#000">0</text><text transform="translate(115.18,616.33) scale(0.9471,0.8338)" font-size="100" fill="#000">10</text><text transform="translate(1279.48,618.73) scale(0.9471,0.8353)" font-size="100" fill="#000">10</text><text transform="translate(110.93,945.10) scale(0.9935,0.8478)" font-size="100" fill="#000">20</text><text transform="translate(1275.44,947.19) scale(0.9891,0.8552)" font-size="100" fill="#000">20</text><text transform="translate(111.99,1274.40) scale(0.9813,0.8522)" font-size="100" fill="#000">30</text><text transform="translate(1276.34,1276.40) scale(0.9813,0.8522)" font-size="100" fill="#000">30</text><text transform="translate(112.24,1602.69) scale(0.9787,0.8567)" font-size="100" fill="#000">40</text><text transform="translate(1276.59,1604.69) scale(0.9787,0.8567)" font-size="100" fill="#000">40</text><text transform="translate(111.59,1932.09) scale(0.9856,0.8567)" font-size="100" fill="#000">50</text><text transform="translate(1275.94,1934.09) scale(0.9856,0.8567)" font-size="100" fill="#000">50</text><text transform="translate(113.12,2259.90) scale(0.9707,0.8478)" font-size="100" fill="#000">60</text><text transform="translate(1277.62,2261.99) scale(0.9696,0.8567)" font-size="100" fill="#000">60</text><text transform="translate(167.40,200.02) scale(0.9743,0.8397)" font-size="100" fill="#F7820C">-100</text><text transform="translate(1332.11,202.71) scale(0.9720,0.8441)" font-size="100" fill="#F7820C">-100</text><text transform="translate(571.80,199.90) scale(0.9752,0.8507)" font-size="100" fill="#F7820C">-80</text><text transform="translate(1736.20,202.30) scale(0.9752,0.8507)" font-size="100" fill="#F7820C">-80</text><text transform="translate(950.77,199.90) scale(0.9824,0.8507)" font-size="100" fill="#F7820C">-60</text><text transform="translate(2115.09,202.49) scale(0.9776,0.8567)" font-size="100" fill="#F7820C">-60</text><text transform="translate(192.71,2367.78) scale(0.9728,0.8597)" font-size="100" fill="#0B6CB3">-40</text><text transform="translate(1357.62,2350.39) scale(0.9696,0.8567)" font-size="100" fill="#0B6CB3">-40</text><text transform="translate(572.71,2367.60) scale(0.9728,0.8507)" font-size="100" fill="#0B6CB3">-20</text><text transform="translate(1737.61,2350.40) scale(0.9728,0.8507)" font-size="100" fill="#0B6CB3">-20</text><text transform="translate(992.03,2368.08) scale(0.9929,0.8612)" font-size="100" fill="#0B6CB3">0</text><text transform="translate(2156.93,2350.88) scale(0.9929,0.8612)" font-size="100" fill="#0B6CB3">0</text></g></svg></body></html>
